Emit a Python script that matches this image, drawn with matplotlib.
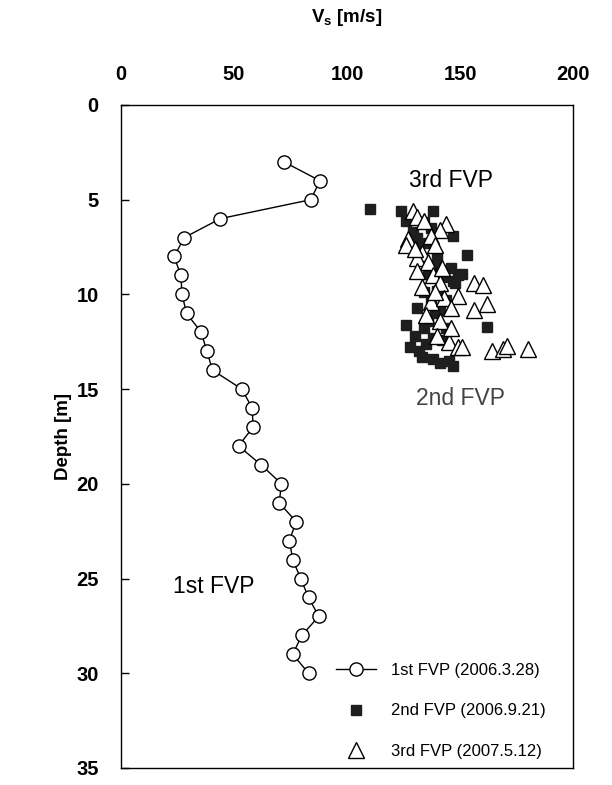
import matplotlib
matplotlib.use("Agg")
import matplotlib.pyplot as plt

plt.rcParams['font.family'] = ['Liberation Sans', 'DejaVu Sans']

# 1st FVP (2006.3.28): open circles joined by a line
fvp1_depth = [3, 4, 5, 6, 7, 8, 9, 10, 11, 12, 13, 14, 15, 16, 17, 18, 19, 20,
              21, 22, 23, 24, 25, 26, 27, 28, 29, 30]
fvp1_vs = [72, 88, 84, 44, 28, 23.5, 26.5, 27, 29, 35.5, 38, 40.5, 53.5, 58, 58.5, 52,
           62, 71, 70, 77.5, 74.5, 76, 79.5, 83, 87.5, 80, 76, 83]

# 2nd FVP (2006.9.21): filled squares
fvp2_vs = [110, 124, 138, 129, 134, 147, 126, 153, 140, 131, 136, 139, 143, 151, 146,
           136, 142, 148, 134, 140, 147, 137, 144, 131, 139, 126, 162, 134, 144, 130,
           138, 142, 128, 132, 135, 138, 141, 147, 145, 133, 136, 141, 149, 131, 137]
fvp2_depth = [5.5, 5.6, 5.6, 6.7, 6.2, 6.9, 6.1, 7.9, 8.0, 7.5, 7.3, 8.5, 8.7, 8.9, 8.6,
              8.9, 9.1, 9.4, 9.9, 9.8, 9.3, 10.4, 10.3, 10.7, 11.0, 11.6, 11.7, 11.8, 11.8, 12.2,
              12.3, 12.4, 12.8, 13.0, 12.6, 13.4, 13.6, 13.8, 13.5, 13.3, 11.4, 10.8, 9.0, 7.0, 6.5]

# 3rd FVP (2007.5.12): open triangles
fvp3_vs = [129, 131, 134, 144, 141, 127, 137, 126, 139, 133, 131, 136, 131, 138, 141,
           156, 160, 137, 143, 149, 156, 162, 146, 135, 141, 140, 145, 149, 151, 164,
           169, 171, 180, 133, 139, 146, 130, 142]
fvp3_depth = [5.6, 5.9, 6.1, 6.3, 6.6, 7.1, 6.9, 7.4, 7.4, 7.8, 8.1, 8.3, 8.75, 9.0, 9.4,
              9.4, 9.5, 10.4, 10.2, 10.1, 10.8, 10.5, 10.7, 11.1, 11.4, 12.2, 12.5, 12.8, 12.8, 13.0,
              12.9, 12.7, 12.9, 9.6, 9.9, 11.8, 7.6, 8.6]

labels = ['1st FVP (2006.3.28)', '2nd FVP (2006.9.21)', '3rd FVP (2007.5.12)']

fig = plt.figure(figsize=(6.12, 7.85), dpi=100)
ax = fig.add_axes([0.1977, 0.0217, 0.7386, 0.8446])

ax.plot(fvp1_vs, fvp1_depth, '-o', color='k', lw=1.0, ms=9.5, mfc='white', mec='k',
        mew=1.0, label=labels[0], zorder=3)
ax.plot(fvp2_vs, fvp2_depth, 's', ls='none', ms=6.5, mfc='#1e1e1e', mec='#1e1e1e',
        label=labels[1], zorder=2)
ax.plot(fvp3_vs, fvp3_depth, '^', ls='none', ms=12, mfc='white', mec='k', mew=1.0,
        label=labels[2], zorder=4)

ax.set_xlim(0, 200)
ax.set_ylim(35, 0)
ax.set_xticks([0, 50, 100, 150, 200])
ax.set_yticks([0, 5, 10, 15, 20, 25, 30, 35])
ax.xaxis.tick_top()
ax.xaxis.set_label_position('top')
ax.tick_params(axis='x', length=0, pad=15, labelsize=14.5)
ax.tick_params(axis='y', direction='in', length=6, width=1, pad=16, labelsize=14.5)
for lab in ax.get_xticklabels() + ax.get_yticklabels():
    lab.set_fontweight('bold')
for s in ax.spines.values():
    s.set_linewidth(1.0)

ax.set_xlabel(r'$\mathregular{V_s}$ [m/s]', fontsize=13.5, fontweight='bold', labelpad=31)
ax.set_ylabel('Depth [m]', fontsize=13.5, fontweight='bold', labelpad=3)

ax.text(146, 4.0, '3rd FVP', fontsize=16.5, ha='center', va='center')
ax.text(150, 15.5, '2nd FVP', fontsize=16.5, ha='center', va='center', color='#444444')
ax.text(41, 25.4, '1st FVP', fontsize=16.5, ha='center', va='center')

ax.legend(loc='upper left', bbox_to_anchor=(0.475, 0.159), frameon=False,
          fontsize=12, borderpad=0, borderaxespad=0, handlelength=2.4,
          handletextpad=0.9, labelspacing=1.55)

fig.savefig('out.png', dpi=100)
